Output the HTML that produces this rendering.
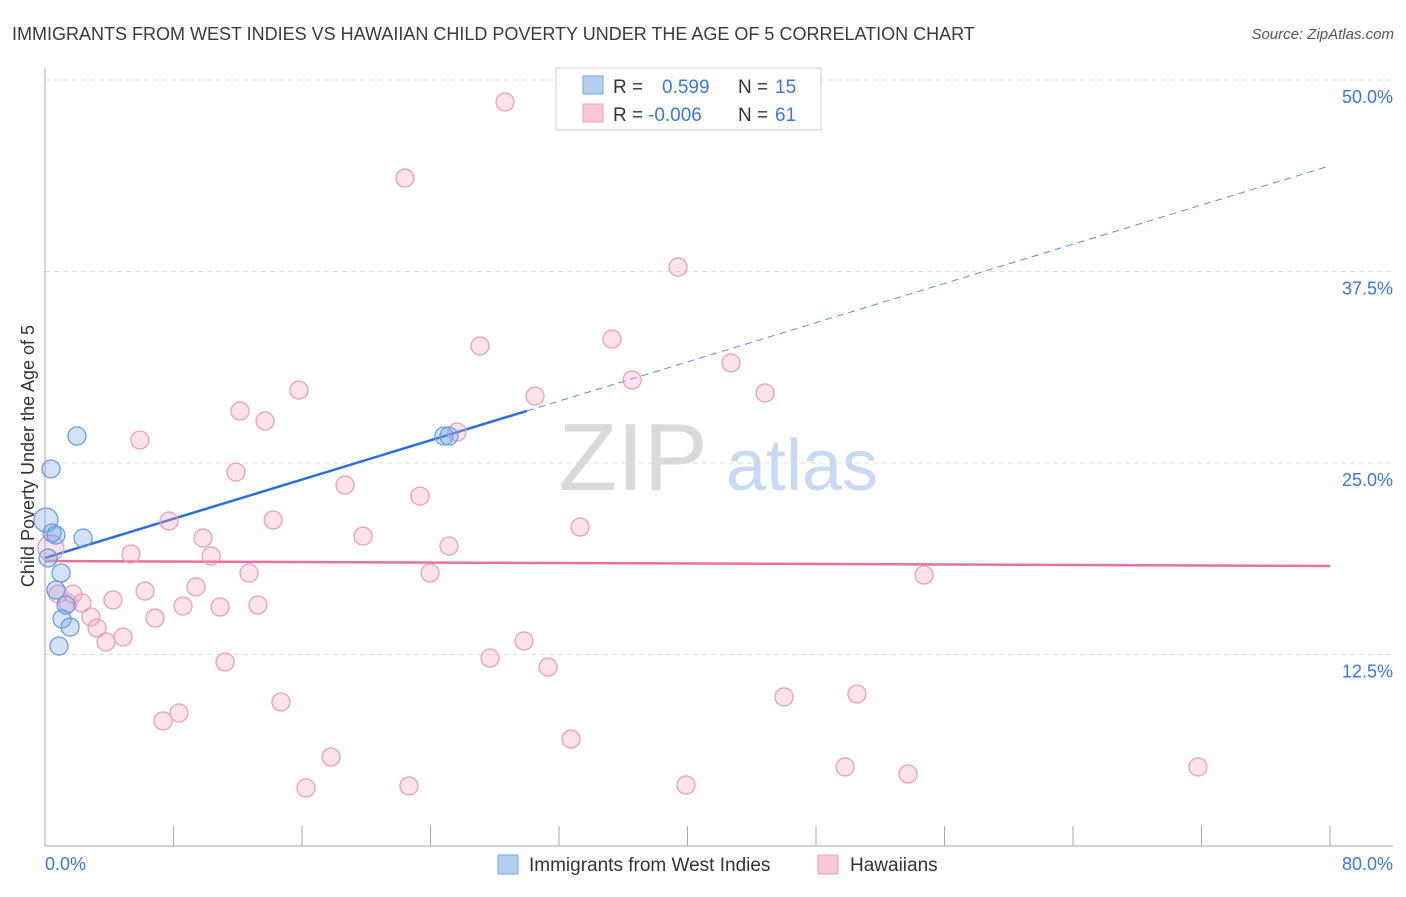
<!DOCTYPE html>
<html><head><meta charset="utf-8"><style>
body{margin:0;background:#fff;font-family:"Liberation Sans",sans-serif}
svg text{font-family:"Liberation Sans",sans-serif}
</style></head><body>
<svg id="chart" width="1406" height="892" viewBox="0 0 1406 892">
<text x="12" y="40" font-size="18" fill="#3a3a3a">IMMIGRANTS FROM WEST INDIES VS HAWAIIAN CHILD POVERTY UNDER THE AGE OF 5 CORRELATION CHART</text>
<text x="1394" y="39" font-size="15" fill="#555" font-style="italic" text-anchor="end">Source: ZipAtlas.com</text>
<g>
<text x="633" y="490" font-size="96" fill="#d9d9d9" font-family="Liberation Serif" text-anchor="middle">ZIP</text>
<text x="802" y="490" font-size="72" fill="#c8daf2" text-anchor="middle">atlas</text>
</g>
<g id="grid"></g><g id="axes"></g><g id="trends"></g><g id="points"></g>
<text transform="translate(34,456) rotate(-90)" font-size="18" fill="#333" text-anchor="middle">Child Poverty Under the Age of 5</text>
<g>
<rect x="556" y="68" width="265" height="62" fill="#fff" stroke="#ccc"/>
<rect x="583" y="76" width="20" height="18" fill="#b5cff3" stroke="#7aa6e3"/>
<rect x="583" y="104" width="20" height="18" fill="#f9c7d7" stroke="#eea0ba"/>
<text x="613" y="93" font-size="19" fill="#333">R =</text><text x="662" y="93" font-size="19" fill="#3b78d8">0.599</text>
<text x="738" y="93" font-size="19" fill="#333">N =</text><text x="775" y="93" font-size="19" fill="#3b78d8">15</text>
<text x="613" y="121" font-size="19" fill="#333">R =</text><text x="648" y="121" font-size="19" fill="#3b78d8">-0.006</text>
<text x="738" y="121" font-size="19" fill="#333">N =</text><text x="775" y="121" font-size="19" fill="#3b78d8">61</text>
</g>
<g>
<rect x="498" y="855" width="20" height="19" fill="#b5cff3" stroke="#7aa6e3"/>
<text x="529" y="871" font-size="19" fill="#333">Immigrants from West Indies</text></g>
<g>
<rect x="818" y="855" width="20" height="19" fill="#f9c7d7" stroke="#eea0ba"/>
<text x="850" y="871" font-size="19" fill="#333">Hawaiians</text></g>
</svg>
<script>
const blueX=[1.99,0.37,0.06,0.44,0.68,2.37,0.19,1.00,0.68,1.31,1.06,1.56,0.87,24.84,25.15];
const blueY=[26.76,24.61,21.28,20.43,20.30,20.10,18.80,17.82,16.71,15.73,14.82,14.29,13.05,26.76,26.76];
const pinkX=[28.64,22.41,39.41,27.08,35.30,15.81,42.71,36.55,30.51,44.83,12.14,13.70,5.91,25.65,11.89,18.68,23.35,7.72,14.20,33.31,19.80,9.84,25.15,5.35,10.34,0.37,12.70,23.97,54.73,6.23,9.40,0.81,1.74,4.23,8.59,10.90,13.26,1.43,2.30,2.86,6.85,3.24,4.86,3.80,29.82,27.71,31.32,11.21,14.69,46.01,50.55,8.34,7.35,32.75,17.81,49.81,53.73,71.78,16.25,22.66,39.91];
const pinkY=[48.56,43.60,37.79,32.64,33.09,29.76,31.53,30.42,29.37,29.57,28.39,27.74,26.50,27.02,24.41,23.56,22.84,21.21,21.28,20.82,20.23,20.10,19.58,19.06,18.93,19.45,17.82,17.82,17.69,16.64,16.91,16.45,16.45,16.06,15.66,15.60,15.73,15.86,15.86,14.95,14.88,14.23,13.64,13.32,13.38,12.27,11.68,12.01,9.40,9.73,9.92,8.68,8.16,6.98,5.81,5.16,4.70,5.16,3.79,3.92,3.98];
const blueTrend=[18.8,0.32];
const pinkTrend=[18.6,-0.004];
const yTicks=[12.5,25.0,37.5,50.0];
const xTickVals=[0,8,16,24,32,40,48,56,64,72,80];
const NS='http://www.w3.org/2000/svg';
const X=v=>45+v/80*1285, Y=v=>846-v/25*383;
function mk(p,tag,a){const e=document.createElementNS(NS,tag);for(const k in a)e.setAttribute(k,a[k]);p.appendChild(e);return e;}
const grid=document.getElementById('grid'),axes=document.getElementById('axes'),tr=document.getElementById('trends'),pts=document.getElementById('points');
yTicks.forEach(t=>{
 const l=mk(grid,'line',{x1:45,x2:1393,y1:Y(t),y2:Y(t),stroke:'#ddd','stroke-dasharray':'5,4'});
 
 
 const tx=mk(axes,'text',{x:1393,y:Y(t)+23,'font-size':18,fill:'#3b78d8','text-anchor':'end'});
 tx.textContent=t.toFixed(1)+'%';
 
 
});
const ya=mk(axes,'line',{x1:45,x2:45,y1:68,y2:846,stroke:'#aaa'});


const xa=mk(axes,'line',{x1:45,x2:1393,y1:846,y2:846,stroke:'#aaa'});


xTickVals.slice(1).forEach(t=>{
 const l=mk(axes,'line',{x1:X(t),x2:X(t),y1:826,y2:846,stroke:'#aaa'});
 
 
});
[[0,'start',45,'0.0%'],[80,'end',1393,'80.0%']].forEach(d=>{
 const tx=mk(axes,'text',{x:d[2],y:870,'font-size':18,fill:'#3b78d8','text-anchor':d[1]});
 tx.textContent=d[3];
 
 
});
const bs=mk(tr,'line',{x1:X(0),y1:Y(blueTrend[0]),x2:X(30),y2:Y(blueTrend[0]+blueTrend[1]*30),stroke:'#2d6fd6','stroke-width':2.5});


const bd=mk(tr,'line',{x1:X(30),y1:Y(blueTrend[0]+blueTrend[1]*30),x2:X(79.8),y2:Y(blueTrend[0]+blueTrend[1]*79.8),stroke:'#5b8fe0','stroke-width':1,'stroke-dasharray':'7,5'});


const pl=mk(tr,'line',{x1:X(0),y1:Y(pinkTrend[0]),x2:X(80),y2:Y(pinkTrend[0]+pinkTrend[1]*80),stroke:'#e8709a','stroke-width':2.5});


pinkX.forEach((x,i)=>{
 const c=mk(pts,'circle',{cx:X(x),cy:Y(pinkY[i]),r:i==25?13:9,fill:'rgba(242,160,190,0.3)',stroke:'#eba0ba','stroke-width':1.3});
 
 
});
blueX.forEach((x,i)=>{
 const c=mk(pts,'circle',{cx:X(x),cy:Y(blueY[i]),r:i==2?12:9,fill:'rgba(110,160,230,0.3)',stroke:'#6c9de2','stroke-width':1.3});
 
 
});
</script>
</body></html>
